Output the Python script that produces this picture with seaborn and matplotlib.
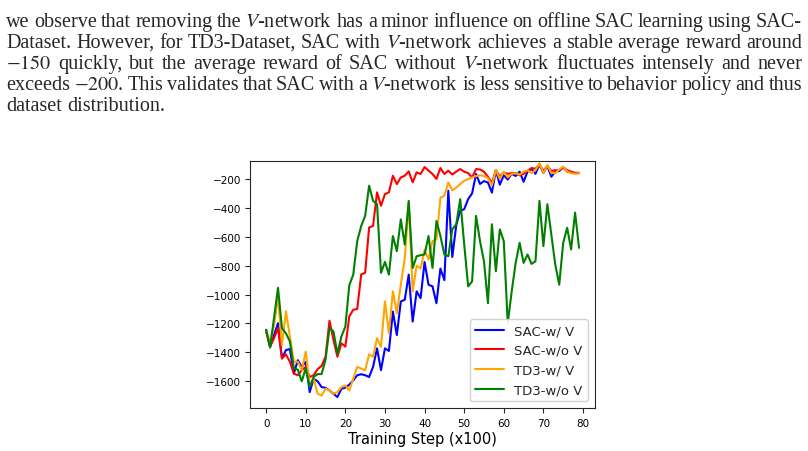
import pandas as pd
import matplotlib
matplotlib.use("Agg")
import matplotlib.pyplot as plt
import seaborn as sns

# Data (average reward per 100 training steps)
steps = list(range(80))
sac_w_v = [-1244, -1360, -1280, -1198, -1442, -1384, -1377, -1547, -1454, -1500,
           -1465, -1675, -1582, -1600, -1640, -1645, -1663, -1686, -1709, -1651,
           -1644, -1623, -1593, -1558, -1551, -1558, -1570, -1500, -1372, -1523,
           -1372, -1390, -1118, -1280, -1048, -1036, -862, -1187, -978, -1025,
           -775, -932, -943, -1060, -820, -900, -282, -740, -520, -420,
           -410, -340, -300, -166, -235, -215, -225, -295, -140, -240,
           -175, -205, -165, -180, -150, -220, -150, -130, -165, -100,
           -160, -110, -185, -150, -145, -120, -150, -155, -160, -160]
sac_wo_v = [-1256, -1360, -1302, -1233, -1442, -1414, -1465, -1547, -1558, -1523,
            -1500, -1570, -1558, -1516, -1493, -1430, -1181, -1314, -1430, -1337,
            -1360, -1151, -1105, -1100, -861, -849, -536, -525, -293, -386,
            -305, -293, -178, -236, -190, -178, -148, -224, -155, -166,
            -118, -143, -166, -200, -125, -166, -143, -170, -150, -132,
            -150, -160, -190, -132, -135, -150, -185, -230, -138, -185,
            -155, -165, -160, -160, -175, -165, -145, -125, -130, -100,
            -145, -110, -145, -140, -140, -120, -140, -150, -158, -158]
td3_w_v = [-1250, -1330, -1210, -1010, -1349, -1116, -1290, -1465, -1465, -1523,
           -1395, -1628, -1582, -1686, -1698, -1651, -1663, -1686, -1674, -1640,
           -1628, -1663, -1582, -1500, -1512, -1523, -1414, -1430, -1302, -1361,
           -1047, -1267, -977, -1129, -932, -747, -364, -978, -800, -820,
           -690, -758, -630, -619, -330, -317, -224, -280, -260, -236,
           -213, -201, -190, -180, -175, -180, -195, -245, -138, -200,
           -150, -190, -165, -160, -170, -150, -140, -160, -140, -92,
           -160, -104, -160, -160, -135, -115, -150, -160, -165, -160]
td3_wo_v = [-1244, -1367, -1160, -953, -1233, -1268, -1325, -1510, -1520, -1600,
            -1510, -1640, -1570, -1550, -1550, -1450, -1230, -1255, -1410, -1290,
            -1222, -935, -862, -630, -526, -456, -247, -352, -375, -850,
            -774, -862, -595, -700, -480, -654, -352, -816, -735, -728,
            -723, -595, -816, -491, -595, -723, -735, -549, -514, -340,
            -650, -943, -909, -456, -630, -770, -1060, -514, -839, -549,
            -631, -1200, -978, -781, -642, -781, -723, -788, -770, -352,
            -665, -375, -584, -793, -932, -642, -538, -688, -433, -677]

methods = ["SAC-w/ V", "SAC-w/o V", "TD3-w/ V", "TD3-w/o V"]
colors = ["blue", "red", "orange", "green"]

paragraph = [
    "we observe that removing the $V$-network has a minor influence on offline SAC learning using SAC-",
    "Dataset. However, for TD3-Dataset, SAC with $V$-network achieves a stable average reward around",
    "$-150$ quickly, but the average reward of SAC without $V$-network fluctuates intensely and never",
    "exceeds $-200$. This validates that SAC with a $V$-network is less sensitive to behavior policy and thus",
    "dataset distribution.",
]

df = pd.concat([
    pd.DataFrame({"step": steps, "reward": vals, "method": name})
    for name, vals in zip(methods, [sac_w_v, sac_wo_v, td3_w_v, td3_wo_v])
])

sns.set_style("ticks")
plt.rcParams["font.family"] = ["DejaVu Sans"]
plt.rcParams["mathtext.fontset"] = "stix"

W, H = 808, 452
fs_text = 14.5
fig = plt.figure(figsize=(W / 100, H / 100), dpi=100)

# paragraph above the figure, justified like the paper
renderer = fig.canvas.get_renderer()
left_px, right_px = 6, 802


def width_of(s):
    t = fig.text(0, 0, s, fontsize=fs_text, family="Liberation Serif")
    w = t.get_window_extent(renderer).width
    t.remove()
    return w


space_w = width_of("a a") - 2 * width_of("a")
for k, line in enumerate(paragraph):
    y = 1 - (27 + 21 * k) / H
    words = line.split(" ")
    texts = [fig.text(0, y, w, fontsize=fs_text, family="Liberation Serif",
                      ha="left", va="baseline") for w in words]
    widths = [t.get_window_extent(renderer).width for t in texts]
    if k < len(paragraph) - 1:
        gap = (right_px - left_px - sum(widths)) / (len(words) - 1)
    else:
        gap = space_w
    x = left_px
    for t, w in zip(texts, widths):
        t.set_x(x / W)
        x += w + gap

ax = fig.add_axes([0.310, 0.095, 0.426, 0.547])
sns.lineplot(data=df, x="step", y="reward", hue="method",
             palette=dict(zip(methods, colors)), linewidth=1.5, ax=ax)

ax.set_ylim(-1785, -75)
ax.set_xticks(range(0, 81, 10))
ax.set_yticks(range(-1600, -100, 200))
ax.tick_params(labelsize=7.5, length=3.5, labelcolor="black")
ax.set_xlabel("Training Step (x100)", fontsize=10.5, labelpad=2, color="black")
ax.set_ylabel("")
ax.legend(loc="lower right", fontsize=9.5, handlelength=2.2, framealpha=0.9)

fig.savefig("out.png", dpi=100)
